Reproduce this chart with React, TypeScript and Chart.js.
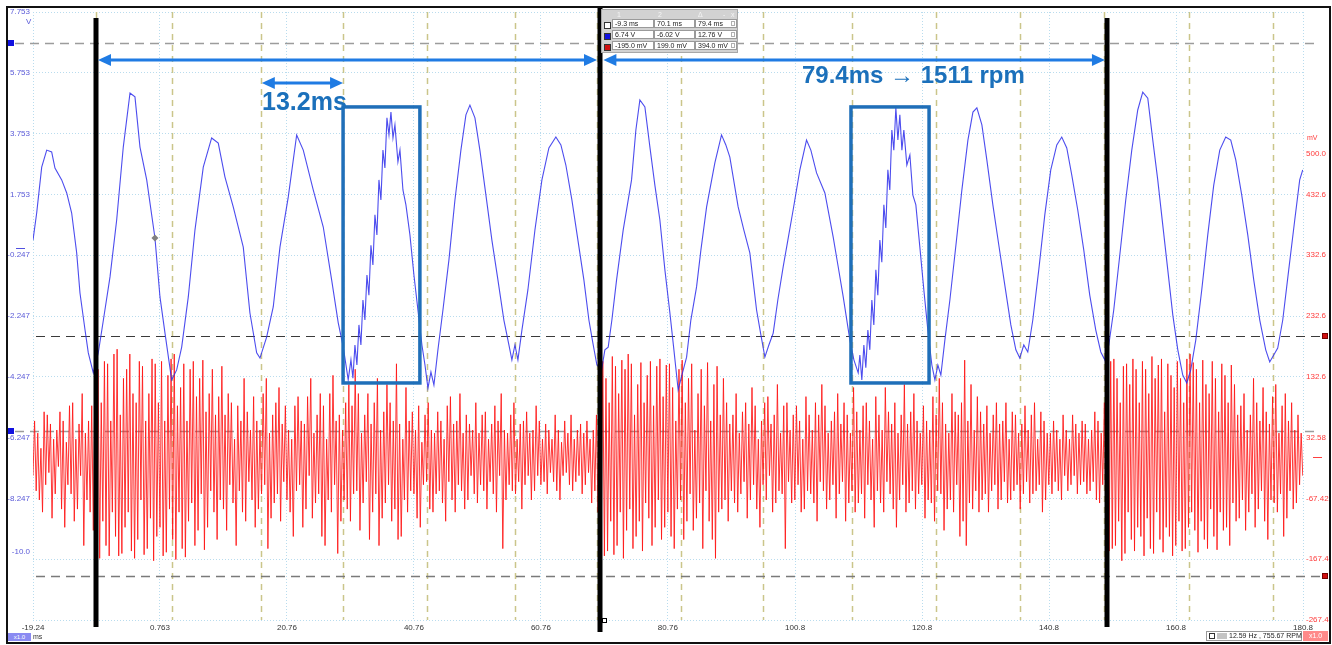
import React, { useEffect, useRef } from 'react';
import { Chart, registerables } from 'chart.js';

Chart.register(...registerables);

// ---------- axis ticks ----------
const X_TICKS = [-19.24, 0.763, 20.76, 40.76, 60.76, 80.76, 100.8, 120.8, 140.8, 160.8, 180.8];
const X_LABELS = ['-19.24', '0.763', '20.76', '40.76', '60.76', '80.76', '100.8', '120.8', '140.8', '160.8', '180.8'];
const V_TICKS = [-12.247, -10.247, -10.0, -8.247, -6.247, -4.247, -2.247, -0.247, 1.753, 3.753, 5.753, 7.753];
const V_LABELS = ['', '', '-10.0', '-8.247', '-6.247', '-4.247', '-2.247', '-0.247', '1.753', '3.753', '5.753', '7.753'];
const MV_TICKS = [-267.4, -167.4, -67.42, 32.58, 132.6, 232.6, 332.6, 432.6, 500.0];
const MV_LABELS = ['-267.4', '-167.4', '-67.42', '32.58', '132.6', '232.6', '332.6', '432.6', '500.0'];

// ---------- cursors / markers (ms, V, mV) ----------
const CURSOR_T = [-9.3, 70.1, 149.9];
const MARKER_T = [-9.3, 2.7, 16.62, 29.63, 42.77, 56.68, 69.67, 82.82, 95.78, 109.8, 122.98, 136.21, 149.44, 162.83, 176.06];
const HLINE_V = [6.74, -6.02];
const HLINE_MV = [199.0, -195.0];

// ---------- channel A (blue, V) ----------
const blueT = [
  -19.24, -18.66, -17.87, -17.08, -16.3, -15.78, -14.72, -13.93, -13.15, -12.36, -11.84, -11.05, -10.53, -9.74, -8.96, -8.22, -7.11, -6.06, -5.02, -3.96,
  -3.18, -2.39, -1.33, -0.03, 0.76, 1.55, 2.6, 3.39, 4.18, 5.22, 6.27, 7.58, 8.9, 9.94, 10.99, 12.3, 13.88, 14.93, 15.99, 16.51,
  17.56, 18.6, 19.66, 20.97, 22.29, 23.33, 24.9, 26.48, 27.8, 28.84, 29.63, 30.41,
  30.84, 31.15, 31.47, 31.78, 32.1, 32.41, 32.73, 33.04, 33.36, 33.67, 33.99, 34.3, 34.62, 34.93, 35.25, 35.56, 35.88, 36.19, 36.51, 36.83,
  37.14, 37.46, 37.77, 38.24, 38.56, 39.03, 39.5, 40.13, 40.76, 41.39, 42.02, 42.5, 42.97, 43.44, 43.91, 44.54, 45.33, 46.27, 47.22, 48.16,
  48.95, 49.58, 50.37, 51.15, 52.1, 53.04, 53.99, 54.93, 55.72, 56.19, 56.67, 57.14, 57.77, 58.71, 59.82, 60.92, 62.02, 63.12, 63.91, 64.69,
  65.64, 66.59, 67.53, 68.32, 68.95, 69.58,
  70.32, 70.84, 71.36, 71.94, 72.68, 73.72, 75.04, 75.72, 76.35, 77.14, 77.93, 78.71, 79.5, 80.29, 81.08, 81.71, 82.38, 82.97, 83.71, 84.38,
  85.28, 85.96, 86.86, 88.16, 89.21, 89.89, 90.52, 91.83, 92.73, 93.67, 94.73, 95.41, 96.04, 96.67, 97.35, 98.08, 98.92, 99.66, 100.49, 101.55,
  102.6, 103.28, 104.18, 105.49, 106.8, 107.54, 108.38, 109.43, 110.06, 110.74,
  111.0, 111.31, 111.63, 111.94, 112.26, 112.57, 112.89, 113.2, 113.52, 113.83, 114.15, 114.46, 114.78, 115.09, 115.41, 115.72, 116.04, 116.35, 116.67, 116.99,
  117.3, 117.62, 117.93, 118.4, 118.88, 119.35, 119.82, 120.45, 121.08, 121.71, 122.34, 122.82, 123.29, 123.76, 124.39, 125.18, 126.13, 127.07, 128.02, 128.81,
  129.43, 130.22, 131.0, 131.95, 132.89, 133.83, 134.78, 135.57, 136.19, 136.82, 137.45, 138.24, 139.18, 140.13, 141.07, 142.02, 142.8, 143.59, 144.38, 145.32,
  146.27, 147.21, 148.16, 148.95, 149.58, 150.21, 150.99, 151.94, 152.88, 153.83, 154.77, 155.56, 156.35, 157.14, 157.92, 158.71, 159.5, 160.29, 161.08, 161.86,
  162.49, 163.12, 163.91, 164.85, 165.8, 166.74, 167.69, 168.63, 169.42, 170.21, 171.15, 172.1, 173.04, 173.99, 174.93, 175.56, 176.19, 176.82, 177.61, 178.55,
  179.5, 180.28, 180.76,
];
const blueV = [
  0.25, 1.14, 2.65, 3.21, 3.15, 2.62, 2.23, 1.8, 1.14, -0.17, -1.49, -2.7, -3.46, -4.12, -3.46, -2.47, -0.96, 0.91, 3.31, 5.09,
  4.96, 3.31, 2.23, 0.32, -1.62, -2.81, -4.35, -4.02, -3.27, -1.62, 0.58, 2.65, 3.61, 3.44, 2.33, 1.34, 0.02, -2.15, -3.46, -3.63,
  -2.94, -1.95, 0.02, 1.67, 3.71, 3.21, 1.9, 0.68, -1.06, -2.47, -3.27, -4.35,
  -3.69, -4.29, -3.2, -3.86, -2.54, -3.2, -1.72, -2.38, -0.9, -1.56, 0.08, -0.57, 1.08, 0.42, 2.23, 1.57, 3.21, 2.62, 4.27, 3.71,
  4.46, 3.61, 4.04, 2.82, 3.21, 1.9, 1.41, 0.42, -0.9, -2.05, -3.2, -3.86, -4.62, -4.09, -4.52, -3.36, -2.05, -0.41, 1.57, 3.21,
  4.37, 4.69, 4.27, 3.21, 1.73, 0.25, -1.06, -2.38, -3.2, -3.69, -3.2, -3.69, -2.71, -1.39, 0.58, 2.23, 3.28, 3.64, 3.38, 2.72,
  1.57, 0.25, -1.06, -2.38, -3.14, -3.86,
  -4.02, -3.36, -3.27, -2.38, -1.06, 0.58, 2.23, 3.87, 4.86, 4.63, 3.31, 2.06, 0.91, -0.73, -2.15, -3.36, -4.68, -4.19, -3.6, -2.38,
  -1.29, -0.08, 1.34, 2.79, 3.71, 3.38, 2.98, 1.34, 0.58, -0.17, -2.05, -2.87, -3.6, -3.2, -2.81, -1.72, -0.63, 0.25, 1.24, 2.56,
  3.54, 3.21, 2.46, 1.8, 0.35, -0.57, -1.62, -3.04, -3.69, -4.12,
  -3.53, -4.35, -3.2, -3.95, -2.71, -3.36, -1.72, -2.54, -0.73, -1.56, 0.25, -0.48, 1.41, 0.65, 2.56, 1.9, 3.87, 3.21, 4.6, 3.54,
  4.37, 3.21, 3.87, 2.72, 3.05, 1.73, 1.41, 0.02, -1.39, -2.71, -3.86, -4.35, -3.86, -4.19, -3.04, -1.72, 0.08, 1.9, 3.54, 4.46,
  4.6, 4.04, 2.89, 1.41, 0.08, -1.23, -2.54, -3.36, -3.63, -3.2, -3.43, -2.38, -0.73, 1.08, 2.56, 3.38, 3.64, 3.28, 2.39, 1.24,
  -0.08, -1.56, -2.71, -3.43, -3.69, -3.2, -2.05, -0.25, 1.57, 3.21, 4.53, 5.12, 4.92, 3.54, 2.23, 0.75, -0.73, -2.21, -3.36, -4.19,
  -4.45, -4.02, -3.04, -1.39, 0.42, 2.06, 3.21, 3.64, 3.54, 2.89, 1.73, 0.42, -1.06, -2.38, -3.36, -3.76, -3.53, -3.3, -2.38, -0.73,
  0.91, 2.23, 2.56,
];

// ---------- channel B (red, mV): one sample every 0.25 ms from -19.24 ms ----------
const RED_T0 = -19.24;
const RED_DT = 0.25;
const redMV = [
  -30, 60, -55, 40, -70, 15, -90, 75, -45, 70, -25, 55, -100, 30, -60, 45, -15, 75, -85, 60, -115, 25, -45, 85, -60, 90, -105, 30, -85, 55, -30, 105, -145, 40, -70, 60, -90, 85, -120, 130,
  -154, 145, -166, 90, -105, 158, -145, 154, -162, 60, -90, 170, -130, 178, -162, 70, -158, 130, -115, 145, -90, 170, -154, 105, -166, 90, -135, 158, -70, 150, -160, 60, -150, 105, -100, 162, -170, 154, -130, 90,
  -115, 158, -162, 60, -156, 135, -85, 162, -135, 170, -168, 85, -90, 115, -150, 154, -164, 60, -105, 145, -75, 158, -145, 100, -120, 130, -60, 160, -152, 75, -115, 105, -55, 145, -90, 70, -135, 100, -70, 150,
  -85, 70, -120, 105, -45, 90, -75, 30, -145, 85, -55, 60, -90, 130, -105, 75, -40, 45, -70, 100, -115, 60, -85, 45, -60, 105, -45, 130, -150, 40, -100, 70, -75, 90, -60, 115, -105, 55, -40, 85,
  -70, 45, -90, 30, -130, 85, -55, 100, -45, 60, -115, 55, -85, 100, -30, 130, -100, 40, -75, 70, -60, 105, -130, 85, -145, 30, -70, 105, -90, 135, -45, 60, -158, 70, -105, 45, -70, 90, -85, 120,
  -105, 85, -60, 145, -55, 105, -120, 40, -75, 70, -40, 105, -135, 55, -90, 90, -60, 130, -145, 45, -100, 75, -75, 120, -45, 90, -105, 60, -85, 154, -135, 55, -130, 30, -70, 115, -90, 60, -55, 75,
  -60, 45, -100, 85, -115, 25, -45, 70, -40, 90, -85, 45, -90, 40, -60, 75, -55, 60, -75, 30, -105, 85, -40, 100, -70, 55, -90, 60, -45, 105, -55, 40, -85, 70, -70, 55, -30, 45, -60, 90,
  -75, 40, -45, 70, -55, 75, -85, 30, -40, 55, -60, 85, -90, 60, -30, 105, -150, 45, -70, 40, -45, 70, -55, 90, -60, 30, -40, 55, -85, 60, -45, 75, -30, 40, -70, 45, -55, 85, -30, 60,
  -45, 30, -40, 55, -60, 45, -25, 30, -40, 70, -55, 45, -70, 25, -30, 60, -25, 40, -45, 70, -55, 30, -40, 45, -30, 55, -60, 40, -45, 60, -25, 30, -75, 45, -55, 70, -90, 90, -135, 158,
  -162, 130, -154, 90, -105, 166, -160, 150, -145, 105, -90, 160, -166, 145, -120, 170, -85, 154, -150, 70, -130, 120, -105, 156, -154, 90, -75, 135, -100, 158, -145, 85, -115, 150, -70, 162, -135, 100, -115, 152,
  -90, 154, -130, 115, -150, 60, -85, 145, -70, 160, -135, 90, -105, 130, -60, 154, -120, 45, -100, 105, -75, 145, -150, 85, -55, 156, -105, 60, -135, 120, -166, 150, -90, 70, -85, 130, -70, 90, -105, 55,
  -55, 70, -75, 105, -90, 40, -60, 75, -40, 90, -100, 55, -70, 115, -45, 85, -85, 30, -115, 60, -45, 90, -70, 100, -30, 55, -90, 70, -75, 120, -55, 40, -60, 85, -150, 90, -40, 45, -75, 70,
  -70, 85, -45, 60, -90, 30, -85, 100, -55, 70, -60, 45, -75, 90, -105, 70, -40, 120, -55, 85, -85, 40, -70, 60, -45, 75, -100, 105, -60, 55, -40, 90, -105, 70, -75, 40, -55, 115, -90, 75,
  -75, 45, -60, 85, -100, 90, -45, 60, -70, 30, -115, 100, -55, 70, -75, 45, -90, 115, -40, 75, -60, 55, -85, 90, -115, 40, -70, 70, -45, 120, -90, 55, -75, 75, -55, 105, -85, 60, -60, 40,
  -45, 85, -100, 60, -70, 45, -75, 100, -105, 70, -55, 130, -60, 90, -120, 55, -85, 40, -70, 105, -90, 75, -45, 70, -130, 90, -105, 160, -145, 60, -75, 120, -85, 45, -55, 100, -90, 75, -70, 55,
  -60, 85, -90, 40, -55, 70, -45, 90, -85, 55, -70, 60, -40, 90, -75, 30, -70, 75, -55, 70, -45, 40, -85, 55, -60, 85, -40, 45, -75, 70, -60, 90, -55, 30, -45, 75, -90, 60, -70, 40,
  -45, 40, -60, 60, -40, 45, -55, 30, -70, 70, -30, 45, -55, 30, -45, 70, -30, 55, -60, 40, -45, 60, -40, 55, -60, 30, -55, 45, -40, 75, -70, 60, -75, 40, -45, 90, -120, 145, -154, 158,
  -150, 162, -145, 130, -105, 90, -170, 150, -158, 154, -90, 120, -135, 162, -154, 145, -115, 90, -130, 158, -162, 145, -100, 105, -150, 166, -158, 130, -90, 152, -135, 162, -156, 75, -115, 154, -130, 135, -162, 115,
  -145, 158, -105, 130, -154, 90, -150, 162, -115, 170, -90, 156, -120, 145, -156, 90, -105, 160, -135, 120, -150, 105, -85, 158, -130, 130, -152, 75, -90, 154, -120, 135, -115, 90, -145, 152, -75, 120, -105, 70,
  -100, 85, -70, 105, -120, 45, -90, 70, -60, 130, -115, 90, -85, 60, -55, 115, -105, 75, -135, 55, -70, 100, -75, 120, -90, 40, -60, 85, -130, 105, -100, 60, -55, 90, -85, 45, -75, 70, -45, 40,
  -30,
];

// ---------- annotations (ms / V) ----------
const BIG_ARROWS = [[-9.0, 69.6], [70.6, 149.6]];
const BIG_ARROW_V = 6.17;
const SMALL_ARROW = [16.8, 29.6];
const SMALL_ARROW_V = 5.42;
const BOXES = [[29.6, 41.7], [109.6, 121.9]];
const BOX_V = [-4.45, 4.63];

const FONT = 'Liberation Sans, Arial, sans-serif';
const GRID = '#b9dcee';

function drawArrow(ctx: any, x1: number, x2: number, y: number) {
  const h = 13;
  const w = 6;
  ctx.beginPath();
  ctx.moveTo(x1 + h - 2, y);
  ctx.lineTo(x2 - h + 2, y);
  ctx.stroke();
  ctx.beginPath();
  ctx.moveTo(x1, y);
  ctx.lineTo(x1 + h, y - w);
  ctx.lineTo(x1 + h, y + w);
  ctx.closePath();
  ctx.fill();
  ctx.beginPath();
  ctx.moveTo(x2, y);
  ctx.lineTo(x2 - h, y - w);
  ctx.lineTo(x2 - h, y + w);
  ctx.closePath();
  ctx.fill();
}

const overlayPlugin = {
  id: 'scopeOverlay',
  beforeDatasetsDraw(chart: any) {
    const { ctx, chartArea: a, scales } = chart;
    const sx = scales.x;
    const sy = scales.y;
    const sy1 = scales.y1;
    ctx.save();
    ctx.strokeStyle = '#cbc58a';
    ctx.lineWidth = 1.5;
    ctx.setLineDash([6, 5]);
    for (const t of MARKER_T) {
      const px = Math.round(sx.getPixelForValue(t)) + 0.5;
      ctx.beginPath();
      ctx.moveTo(px, a.top);
      ctx.lineTo(px, a.bottom);
      ctx.stroke();
    }
    ctx.setLineDash([9, 6]);
    ctx.strokeStyle = '#9c9c9c';
    ctx.lineWidth = 1.5;
    for (const v of HLINE_V) {
      const py = Math.round(sy.getPixelForValue(v)) + 0.5;
      ctx.beginPath();
      ctx.moveTo(15, py);
      ctx.lineTo(1320, py);
      ctx.stroke();
    }
    HLINE_MV.forEach((v, i) => {
      const py = Math.round(sy1.getPixelForValue(v)) + 0.5;
      ctx.strokeStyle = i === 0 ? '#3a3a3a' : '#7a7a7a';
      ctx.lineWidth = i === 0 ? 1 : 1.5;
      ctx.beginPath();
      ctx.moveTo(a.left + 3, py);
      ctx.lineTo(1320, py);
      ctx.stroke();
    });
    ctx.restore();
  },
  afterDatasetsDraw(chart: any) {
    const { ctx, chartArea: a, scales } = chart;
    const sx = scales.x;
    const sy = scales.y;
    const sy1 = scales.y1;
    ctx.save();
    for (const v of HLINE_V) {
      const py = Math.round(sy.getPixelForValue(v));
      ctx.fillStyle = '#1010e0';
      ctx.fillRect(8, py - 3, 6, 6);
    }
    for (const v of HLINE_MV) {
      const py = Math.round(sy1.getPixelForValue(v));
      ctx.fillStyle = '#d01010';
      ctx.fillRect(1322, py - 3, 6, 6);
      ctx.strokeStyle = '#700';
      ctx.lineWidth = 1;
      ctx.strokeRect(1322.5, py - 2.5, 5, 5);
    }
    const z0 = Math.round(sy.getPixelForValue(0)) + 0.5;
    ctx.strokeStyle = '#5050e0';
    ctx.lineWidth = 1;
    ctx.beginPath();
    ctx.moveTo(16, z0);
    ctx.lineTo(25, z0);
    ctx.stroke();
    const z1 = Math.round(sy1.getPixelForValue(0)) + 0.5;
    ctx.strokeStyle = '#ff4040';
    ctx.beginPath();
    ctx.moveTo(1313, z1);
    ctx.lineTo(1322, z1);
    ctx.stroke();
    const dx = sx.getPixelForValue(-0.03);
    const dy = sy.getPixelForValue(0.32);
    ctx.fillStyle = '#808080';
    ctx.beginPath();
    ctx.moveTo(dx, dy - 3.5);
    ctx.lineTo(dx + 3.5, dy);
    ctx.lineTo(dx, dy + 3.5);
    ctx.lineTo(dx - 3.5, dy);
    ctx.closePath();
    ctx.fill();
    ctx.setLineDash([]);
    ctx.strokeStyle = '#000';
    ctx.lineWidth = 5;
    CURSOR_T.forEach((t, i) => {
      const px = Math.round(sx.getPixelForValue(t));
      ctx.beginPath();
      ctx.moveTo(px, i === 1 ? 8 : a.top + 6);
      ctx.lineTo(px, i === 1 ? 632 : 627);
      ctx.stroke();
    });
    const c2 = Math.round(sx.getPixelForValue(CURSOR_T[1]));
    ctx.fillStyle = '#fff';
    ctx.fillRect(c2 + 2, a.bottom - 2, 5, 5);
    ctx.strokeStyle = '#000';
    ctx.lineWidth = 1;
    ctx.strokeRect(c2 + 2.5, a.bottom - 1.5, 4, 4);
    ctx.strokeStyle = '#1f6fb9';
    ctx.lineWidth = 3.5;
    for (const [t1, t2] of BOXES) {
      const x1 = sx.getPixelForValue(t1);
      const x2 = sx.getPixelForValue(t2);
      const y1 = sy.getPixelForValue(BOX_V[1]);
      const y2 = sy.getPixelForValue(BOX_V[0]);
      ctx.strokeRect(x1, y1, x2 - x1, y2 - y1);
    }
    ctx.strokeStyle = '#1f7be3';
    ctx.fillStyle = '#1f7be3';
    ctx.lineWidth = 3;
    for (const [t1, t2] of BIG_ARROWS) {
      drawArrow(ctx, sx.getPixelForValue(t1), sx.getPixelForValue(t2), Math.round(sy.getPixelForValue(BIG_ARROW_V)));
    }
    drawArrow(ctx, sx.getPixelForValue(SMALL_ARROW[0]), sx.getPixelForValue(SMALL_ARROW[1]), Math.round(sy.getPixelForValue(SMALL_ARROW_V)));
    ctx.restore();
  },
};

const cellBase: any = {
  position: 'absolute',
  height: 9,
  background: '#fff',
  border: '1px solid #9a9a9a',
  boxSizing: 'border-box',
  fontSize: 7,
  lineHeight: '8px',
  paddingLeft: 2,
  whiteSpace: 'nowrap',
  overflow: 'hidden',
  color: '#222',
};

const TABLE_ROWS = [
  { icon: '#fff', cells: ['-9.3 ms', '70.1 ms', '79.4 ms'] },
  { icon: '#1010e0', cells: ['6.74 V', '-6.02 V', '12.76 V'] },
  { icon: '#d01010', cells: ['-195.0 mV', '199.0 mV', '394.0 mV'] },
];
const COLS = [[10, 42], [52, 41], [93, 42]];

export default function App() {
  const ref = useRef<HTMLCanvasElement | null>(null);

  useEffect(() => {
    if (!ref.current) return;
    const nA = Math.min(blueT.length, blueV.length);
    const dataA = [];
    for (let i = 0; i < nA; i++) dataA.push({ x: blueT[i], y: blueV[i] });
    const dataB = redMV.map((v, i) => ({ x: RED_T0 + i * RED_DT, y: v }));
    const chart = new Chart(ref.current, {
      type: 'line',
      data: {
        datasets: [
          {
            label: 'A',
            data: dataA,
            yAxisID: 'y',
            borderColor: 'rgba(45,45,235,0.85)',
            borderWidth: 1.1,
            pointRadius: 0,
            tension: 0,
          },
          {
            label: 'B',
            data: dataB,
            yAxisID: 'y1',
            borderColor: 'rgba(255,20,20,0.85)',
            borderWidth: 1,
            pointRadius: 0,
            tension: 0,
          },
        ],
      },
      options: {
        animation: false,
        responsive: false,
        events: [],
        layout: { padding: { top: 12, left: 0, right: 0, bottom: 0 } },
        plugins: { legend: { display: false }, tooltip: { enabled: false } },
        scales: {
          x: {
            type: 'linear',
            min: -19.24,
            max: 180.8,
            afterBuildTicks: (s: any) => {
              s.ticks = X_TICKS.map((v) => ({ value: v }));
            },
            afterFit: (s: any) => {
              s.height = 25;
            },
            ticks: {
              autoSkip: false,
              maxRotation: 0,
              padding: 3,
              color: '#333',
              font: { family: FONT, size: 8 },
              callback: (v: any) => {
                const i = X_TICKS.indexOf(v);
                return i >= 0 ? X_LABELS[i] : '';
              },
            },
            grid: { color: GRID, drawTicks: false, lineWidth: 1 },
            border: { display: false, dash: [1, 2] },
          },
          y: {
            type: 'linear',
            position: 'left',
            min: -12.247,
            max: 7.753,
            afterBuildTicks: (s: any) => {
              s.ticks = V_TICKS.map((v) => ({ value: v }));
            },
            afterFit: (s: any) => {
              s.width = 33;
            },
            ticks: {
              autoSkip: false,
              padding: 3,
              color: '#5a5ad8',
              font: { family: FONT, size: 8 },
              callback: (v: any) => {
                const i = V_TICKS.indexOf(v);
                return i >= 0 ? V_LABELS[i] : '';
              },
            },
            grid: {
              color: (c: any) => (c.tick && c.tick.value === -10.0 ? 'rgba(0,0,0,0)' : GRID),
              drawTicks: false,
              lineWidth: 1,
            },
            border: { display: false, dash: [1, 2] },
          },
          y1: {
            type: 'linear',
            position: 'right',
            min: -267.4,
            max: 732.6,
            afterBuildTicks: (s: any) => {
              s.ticks = MV_TICKS.map((v) => ({ value: v }));
            },
            afterFit: (s: any) => {
              s.width = 29;
            },
            ticks: {
              autoSkip: false,
              padding: 3,
              color: '#ff3a3a',
              font: { family: FONT, size: 8 },
              callback: (v: any) => {
                const i = MV_TICKS.indexOf(v);
                return i >= 0 ? MV_LABELS[i] : '';
              },
            },
            grid: { drawOnChartArea: false, drawTicks: false },
            border: { display: false },
          },
        },
      } as any,
      plugins: [overlayPlugin],
    });
    return () => chart.destroy();
  }, []);

  return (
    <div
      style={{
        position: 'fixed',
        left: 0,
        top: 0,
        width: 1332,
        height: 645,
        background: '#fff',
        overflow: 'hidden',
        fontFamily: FONT,
      }}
    >
      <canvas ref={ref} width={1332} height={645} style={{ position: 'absolute', left: 0, top: 0 }} />
      <div
        style={{
          position: 'absolute',
          left: 6,
          top: 6,
          width: 1325,
          height: 638,
          border: '2px solid #111',
          boxSizing: 'border-box',
          pointerEvents: 'none',
        }}
      />
      <div style={{ position: 'absolute', left: 26, top: 17, fontSize: 8, color: '#5a5ad8' }}>V</div>
      <div style={{ position: 'absolute', left: 1307, top: 134, fontSize: 7, color: '#ff3a3a' }}>mV</div>
      <div
        style={{
          position: 'absolute',
          left: 262,
          top: 89,
          fontSize: 25,
          lineHeight: '25px',
          fontWeight: 'bold',
          color: '#1b70bb',
          whiteSpace: 'nowrap',
        }}
      >
        13.2ms
      </div>
      <div
        style={{
          position: 'absolute',
          left: 802,
          top: 63,
          fontSize: 24,
          lineHeight: '24px',
          fontWeight: 'bold',
          color: '#1b70bb',
          whiteSpace: 'nowrap',
        }}
      >
        79.4ms → 1511 rpm
      </div>
      <div
        style={{
          position: 'absolute',
          left: 601,
          top: 9,
          width: 137,
          height: 44,
          background: '#d2d2d2',
          border: '1px solid #a8a8a8',
          boxSizing: 'border-box',
        }}
      >
        <div style={{ position: 'absolute', left: 15, top: 0, fontSize: 7, lineHeight: '9px', color: '#f4f4f4' }}>1</div>
        <div style={{ position: 'absolute', left: 56, top: 0, fontSize: 7, lineHeight: '9px', color: '#f4f4f4' }}>2</div>
        <div style={{ position: 'absolute', left: 96, top: 0, fontSize: 7, lineHeight: '9px', color: '#f4f4f4' }}>Δ</div>
        <div style={{ position: 'absolute', left: 121, top: 0, fontSize: 7, lineHeight: '9px', color: '#f4f4f4' }}>-</div>
        <div style={{ position: 'absolute', left: 129, top: 0, fontSize: 7, lineHeight: '9px', color: '#f4f4f4' }}>x</div>
        {TABLE_ROWS.map((r, ri) => (
          <React.Fragment key={ri}>
            <div
              style={{
                position: 'absolute',
                left: 2,
                top: 12 + ri * 11,
                width: 5,
                height: 5,
                background: r.icon,
                border: '1px solid #333',
              }}
            />
            {r.cells.map((c, ci) => (
              <div key={ci} style={{ ...cellBase, left: COLS[ci][0], top: 9 + ri * 11, width: COLS[ci][1] }}>
                {c}
              </div>
            ))}
            <div
              style={{
                position: 'absolute',
                left: 129,
                top: 11 + ri * 11,
                width: 4,
                height: 5,
                border: '1px solid #b0b0b0',
                boxSizing: 'border-box',
              }}
            />
          </React.Fragment>
        ))}
      </div>
      <div
        style={{
          position: 'absolute',
          left: 8,
          top: 633,
          width: 23,
          height: 8,
          background: '#8a8af2',
          color: '#fff',
          fontSize: 6,
          lineHeight: '8px',
          textAlign: 'center',
        }}
      >
        x1.0
      </div>
      <div style={{ position: 'absolute', left: 33, top: 632, fontSize: 7, lineHeight: '9px', color: '#333' }}>ms</div>
      <div
        style={{
          position: 'absolute',
          left: 1206,
          top: 631,
          width: 96,
          height: 10,
          background: '#fff',
          border: '1px solid #999',
          boxSizing: 'border-box',
        }}
      >
        <div
          style={{
            position: 'absolute',
            left: 2,
            top: 1,
            width: 6,
            height: 6,
            border: '1px solid #333',
            boxSizing: 'border-box',
          }}
        />
        <div style={{ position: 'absolute', left: 10, top: 1, width: 10, height: 6, background: '#c4c4c4' }} />
        <div style={{ position: 'absolute', left: 22, top: 0, fontSize: 7, lineHeight: '8px', color: '#222', whiteSpace: 'nowrap' }}>
          12.59 Hz , 755.67 RPM
        </div>
      </div>
      <div
        style={{
          position: 'absolute',
          left: 1303,
          top: 631,
          width: 25,
          height: 10,
          background: '#ff8a8a',
          color: '#fff',
          fontSize: 7,
          lineHeight: '10px',
          textAlign: 'center',
        }}
      >
        x1.0
      </div>
    </div>
  );
}
